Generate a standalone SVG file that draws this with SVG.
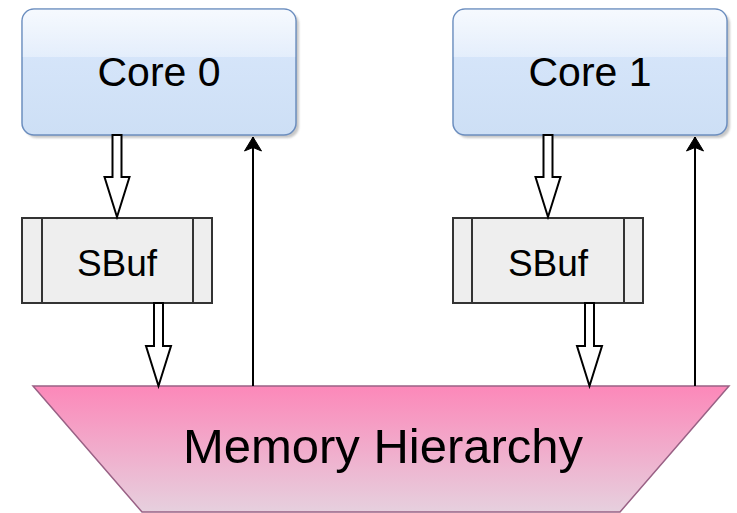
<svg xmlns="http://www.w3.org/2000/svg" width="737" height="513" viewBox="0 0 737 513">
<style>
.core{fill:url(#coreGrad);stroke:#6c8ebf;stroke-width:1.5}
.shadow{fill:#9a9a9a;opacity:0.55;filter:url(#blur)}
.glass{fill:url(#glassGrad)}
.sbuf{fill:#eeeeee;stroke:#333333;stroke-width:2}
.hollow{fill:#ffffff;stroke:#000000;stroke-width:2;stroke-linejoin:miter}
.line{fill:none;stroke:#000000;stroke-width:2;marker-end:url(#arrow)}
.lbl{font-family:"Liberation Sans",Arial,Helvetica,sans-serif;fill:#000000;text-anchor:middle}
</style>
<defs>
<linearGradient id="coreGrad" x1="0" y1="0" x2="0" y2="1">
<stop offset="0" stop-color="#dae8fc"/>
<stop offset="1" stop-color="#cddff5"/>
</linearGradient>
<linearGradient id="glassGrad" x1="0" y1="0" x2="0" y2="1">
<stop offset="0" stop-color="#ffffff" stop-opacity="0.75"/>
<stop offset="1" stop-color="#ffffff" stop-opacity="0.35"/>
</linearGradient>
<linearGradient id="memGrad" x1="0" y1="0" x2="0" y2="1">
<stop offset="0" stop-color="#fc88b9"/>
<stop offset="1" stop-color="#e6d0de"/>
</linearGradient>
<filter id="blur" x="-10%" y="-10%" width="120%" height="120%">
<feGaussianBlur stdDeviation="1.2"/>
</filter>
<marker id="arrow" markerUnits="userSpaceOnUse" markerWidth="18" markerHeight="18" viewBox="0 0 18 18" refX="15" refY="9" orient="auto">
<path d="M15,9 L1,0.5 L4.5,9 L1,17.5 Z" fill="#000000" stroke="#000000" stroke-width="1"/>
</marker>
</defs>
<rect width="737" height="513" fill="#ffffff"/>

<g id="core0">
<rect class="shadow" x="25" y="12" width="274" height="126" rx="12"/>
<rect class="core" x="22" y="9" width="274" height="126" rx="12"/>
<path class="glass" d="M34,9.8 H284 A11.2,11.2 0 0 1 295.2,21 V57 H22.8 V21 A11.2,11.2 0 0 1 34,9.8 Z"/>
<text class="lbl" x="159" y="86" font-size="41">Core 0</text>
</g>

<g id="core1">
<rect class="shadow" x="456" y="12" width="274" height="126" rx="12"/>
<rect class="core" x="453" y="9" width="274" height="126" rx="12"/>
<path class="glass" d="M465,9.8 H715 A11.2,11.2 0 0 1 726.2,21 V57 H453.8 V21 A11.2,11.2 0 0 1 465,9.8 Z"/>
<text class="lbl" x="590" y="86" font-size="41">Core 1</text>
</g>

<g id="sbuf0">
<rect class="sbuf" x="22" y="218" width="190" height="85"/>
<line x1="42" y1="218" x2="42" y2="303" stroke="#333333" stroke-width="2"/>
<line x1="193" y1="218" x2="193" y2="303" stroke="#333333" stroke-width="2"/>
<text class="lbl" x="117" y="276" font-size="37">SBuf</text>
</g>

<g id="sbuf1">
<rect class="sbuf" x="453" y="218" width="190" height="85"/>
<line x1="472" y1="218" x2="472" y2="303" stroke="#333333" stroke-width="2"/>
<line x1="624" y1="218" x2="624" y2="303" stroke="#333333" stroke-width="2"/>
<text class="lbl" x="548" y="276" font-size="37">SBuf</text>
</g>

<g id="memory">
<path d="M33,386 H729 L620,512 H142 Z" fill="url(#memGrad)" stroke="#996185" stroke-width="1.5"/>
<text class="lbl" x="383" y="463" font-size="49">Memory Hierarchy</text>
</g>

<g id="connectors">
<polygon class="hollow" points="112.5,135 121.5,135 121.5,177 129.5,177 117,217 104.5,177 112.5,177"/>
<polygon class="hollow" points="154,303 163,303 163,346 171,346 158.5,386 146,346 154,346"/>
<polygon class="hollow" points="543.5,135 552.5,135 552.5,177 560.5,177 548,217 535.5,177 543.5,177"/>
<polygon class="hollow" points="585,303 594,303 594,346 602,346 589.5,386 577,346 585,346"/>
<line class="line" x1="253" y1="386" x2="253" y2="137"/>
<line class="line" x1="695" y1="386" x2="695" y2="137"/>
</g>
</svg>
